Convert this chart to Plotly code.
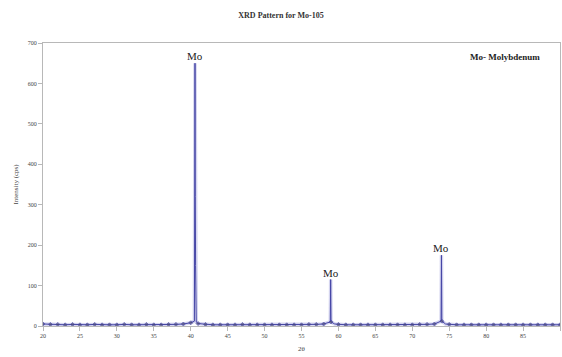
import plotly.graph_objects as go

# Scan angles (2-theta, degrees) and measured intensities (cps)
two_theta = [
    20, 21, 22, 23, 24, 25, 26, 27, 28, 29, 30, 31, 32, 33, 34, 35, 36, 37, 38, 39,
    40, 40.5, 40.58, 40.62, 40.66, 40.75, 41, 42, 43, 44, 45, 46, 47, 48, 49, 50,
    51, 52, 53, 54, 55, 56, 57, 58, 58.9, 58.95, 59.0, 59.5, 60, 61, 62, 63, 64, 65,
    66, 67, 68, 69, 70, 71, 72, 73, 73.9, 73.95, 74.0, 74.5, 75, 76, 77, 78, 79, 80,
    81, 82, 83, 84, 85, 86, 87, 88, 89, 90,
]
intensity = [
    5, 4, 4, 3, 4, 3, 3, 4, 3, 3, 3, 4, 3, 3, 4, 3, 3, 4, 4, 5,
    8, 12, 650, 320, 150, 10, 6, 4, 3, 3, 3, 3, 4, 3, 3, 3,
    3, 3, 3, 3, 3, 4, 4, 5, 10, 115, 10, 5, 4, 3, 3, 3, 3, 3,
    3, 3, 3, 3, 3, 4, 4, 5, 12, 175, 12, 5, 4, 3, 3, 3, 3, 3,
    3, 3, 3, 3, 3, 3, 3, 3, 3, 3,
]

# Labelled reflections
peak_labels = ["Mo", "Mo", "Mo"]
peak_pos = [40.58, 58.95, 73.95]
peak_height = [650, 115, 175]

x_ticks = [20, 25, 30, 35, 40, 45, 50, 55, 60, 65, 70, 75, 80, 85, 90]
y_ticks = [0, 100, 200, 300, 400, 500, 600, 700]

serif = "Liberation Serif, Times New Roman, serif"
line_color = "#4646a6"
axis_color = "#b8b8b8"

# markers only on the regular 1-degree scan points
marker_sizes = [3 if float(t).is_integer() else 0 for t in two_theta]

fig = go.Figure()
# soft halo under the trace
fig.add_trace(go.Scatter(
    x=two_theta, y=intensity, mode="lines",
    line=dict(color="rgba(160,160,220,0.45)", width=3.5),
    hoverinfo="skip", showlegend=False,
))
fig.add_trace(go.Scatter(
    x=two_theta, y=intensity, mode="lines+markers",
    line=dict(color=line_color, width=1),
    marker=dict(symbol="diamond", size=marker_sizes, color="#4a4a70"),
    showlegend=False,
))

for lbl, px, ph in zip(peak_labels, peak_pos, peak_height):
    fig.add_annotation(x=px, y=ph, text=lbl, showarrow=False,
                       xanchor="center", yanchor="bottom", yshift=-1,
                       font=dict(family=serif, size=11, color="#222"))

fig.add_annotation(xref="paper", yref="paper", x=0.894, y=0.95,
                   text="<b>Mo- Molybdenum</b>", showarrow=False,
                   xanchor="center", yanchor="middle",
                   font=dict(family=serif, size=9, color="#222"))

fig.update_layout(
    width=562, height=357,
    margin=dict(l=43, r=2, t=43, b=31),
    paper_bgcolor="white", plot_bgcolor="white",
    title=dict(text="<b>XRD Pattern for Mo-105</b>", x=0.5, xanchor="center",
               y=1 - 15 / 357, yanchor="middle",
               font=dict(family=serif, size=8, color="#333")),
    font=dict(family=serif, size=6, color="#444"),
)
fig.update_xaxes(
    range=[20, 90], tickmode="array", tickvals=x_ticks,
    ticks="outside", ticklen=4, tickcolor=axis_color,
    showline=True, linecolor=axis_color, linewidth=1, mirror=True,
    showgrid=False, zeroline=False,
    title=dict(text="2θ", font=dict(family=serif, size=7), standoff=7),
    tickfont=dict(family=serif, size=6),
)
fig.update_yaxes(
    range=[0, 700], tickmode="array", tickvals=y_ticks,
    ticks="outside", ticklen=4, tickcolor=axis_color,
    showline=True, linecolor=axis_color, linewidth=1, mirror=True,
    showgrid=False, zeroline=False,
    title=dict(text="Intensity (cps)", font=dict(family=serif, size=7), standoff=8),
    tickfont=dict(family=serif, size=6),
)

fig.write_html("out.html")
